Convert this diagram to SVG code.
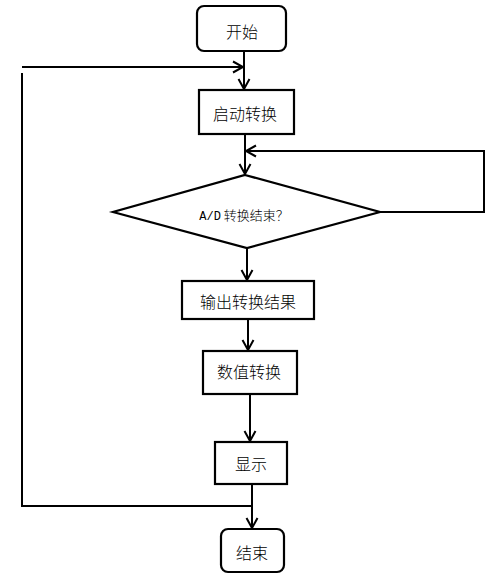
<svg xmlns="http://www.w3.org/2000/svg" width="493" height="579" viewBox="0 0 493 579">
<defs>
<marker id="arr" markerUnits="userSpaceOnUse" markerWidth="14" markerHeight="14" viewBox="-12 -7 14 14" refX="0" refY="0" orient="auto">
<path d="M-10,-5.5 L0,0 L-10,5.5" fill="none" stroke="#000" stroke-width="2"/>
</marker>
<style>
.box{fill:#fff;stroke:#000;stroke-width:2.2}
.t{font-family:"Noto Sans CJK SC","Noto Sans",sans-serif;font-size:16px;font-weight:300;fill:#000;text-anchor:middle;dominant-baseline:central}
.ts{font-family:"Noto Sans CJK SC","Noto Sans",sans-serif;font-size:13px;font-weight:300;fill:#000;text-anchor:middle}
.mono{font-family:"Liberation Mono",monospace;font-size:12px;font-weight:400}
.c{fill:none;stroke:#000;stroke-width:2}
</style>
</defs>
<g id="connectors">
<path class="c" d="M244,51 V89" marker-end="url(#arr)"/>
<path class="c" d="M22,67 H243" marker-end="url(#arr)"/>
<path class="c" d="M22,73 V506 H252"/>
<path class="c" d="M245,134 V174" marker-end="url(#arr)"/>
<path class="c" d="M380,212 H484 V151 H246" marker-end="url(#arr)"/>
<path class="c" d="M247,248 V280" marker-end="url(#arr)"/>
<path class="c" d="M248,319 V350" marker-end="url(#arr)"/>
<path class="c" d="M250,394 V441" marker-end="url(#arr)"/>
<path class="c" d="M252,484 V528" marker-end="url(#arr)"/>
</g>
<g id="start">
<rect class="box" x="197" y="6" width="89" height="45" rx="7"/>
<text class="t" x="242" y="31">开始</text>
</g>
<g id="startConv">
<rect class="box" x="199" y="90" width="95" height="44"/>
<text class="t" x="245" y="113">启动转换</text>
</g>
<g id="decision">
<polygon class="box" points="245,175 380,212 247,248 113,212"/>
<text class="ts" x="244" y="220"><tspan class="mono">A/D</tspan> 转换结束？</text>
</g>
<g id="output">
<rect class="box" x="182" y="281" width="132" height="38"/>
<text class="t" x="248" y="301">输出转换结果</text>
</g>
<g id="numConv">
<rect class="box" x="203" y="351" width="94" height="43"/>
<text class="t" x="249" y="371">数值转换</text>
</g>
<g id="display">
<rect class="box" x="215" y="442" width="72" height="42"/>
<text class="t" x="251" y="463">显示</text>
</g>
<g id="end">
<rect class="box" x="221" y="529" width="63" height="43" rx="7"/>
<text class="t" x="252" y="552">结束</text>
</g>
</svg>
